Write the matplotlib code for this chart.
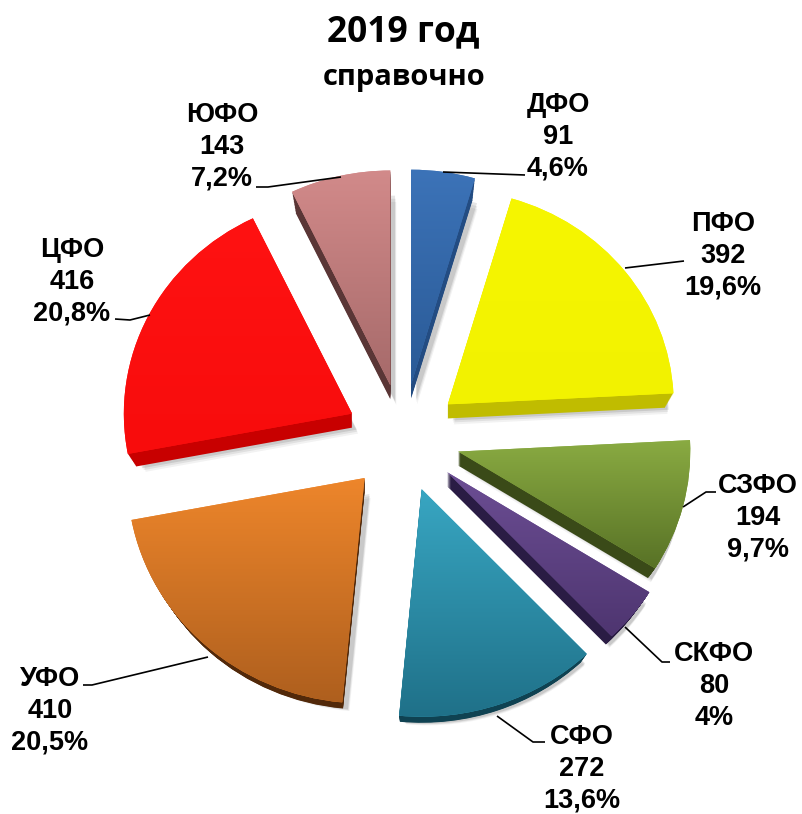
import numpy as np
import matplotlib
matplotlib.use("Agg")
import matplotlib.pyplot as plt
from matplotlib.colors import LinearSegmentedColormap
from matplotlib.patches import Wedge
from matplotlib.transforms import Affine2D

# ---- data ----
districts = ["ДФО", "ПФО", "СЗФО", "СКФО", "СФО", "УФО", "ЦФО", "ЮФО"]
counts = [91, 392, 194, 80, 272, 410, 416, 143]
shares = ["4,6%", "19,6%", "9,7%", "4%", "13,6%", "20,5%", "20,8%", "7,2%"]
title = "2019 год"
subtitle = "справочно"

# ---- style ----
top_colors = ["#3C73B8", "#F6F600", "#8AAB42", "#6C4E94", "#38A6C2", "#EE862B", "#FF1212", "#D28A8A"]
bot_colors = ["#2A5A96", "#F2F200", "#587226", "#4E3570", "#1F7088", "#AE5F1E", "#F80C0C", "#A66A6A"]
side_colors = ["#234C82", "#C0BC00", "#3A4A18", "#2A1C44", "#0F4252", "#52290A", "#C80000", "#5A3636"]
radius_scale = [1.0, 1.0, 1.027, 1.055, 1.06, 1.05, 1.01, 1.0]   # perspective of the 3D view

W, H = 802, 814
CX, CY = 403, 438      # pixel centre of the pie
SQ = 0.95              # vertical squeeze
R = 226
EXPL = 57              # explode distance, data units
DEPTH = 14

def px(x, y):
    return x - CX, (CY - y) / SQ

label_pos = [(558, 137), (723, 256), (758, 518), (714, 686), (582, 769), (50, 711), (72, 282), (222, 147)]
leaders = [
    [(443, 172), (525, 175)],
    [(625, 268), (684, 261)],
    [(683, 507), (706, 492), (716, 492)],
    [(625, 627), (662, 662), (670, 662)],
    [(497, 716), (533, 742), (545, 742)],
    [(208, 657), (92, 685), (83, 685)],
    [(150, 315), (130, 320), (115, 319)],
    [(341, 177), (268, 187), (256, 187)],
]

fig = plt.figure(figsize=(W / 100, H / 100), dpi=100, facecolor="white")
ax = fig.add_axes([0, 0, 1, 1])

wedges, _ = ax.pie(counts, explode=[EXPL] * len(counts), radius=R, center=(0, 0),
                   startangle=90, counterclock=False, colors=top_colors)
ax.set_aspect("auto")
xlim = (-CX, W - CX)
ylim = ((CY - H) / SQ, CY / SQ)

grad = np.linspace(0, 1, 256)[:, None]
for i, w in enumerate(wedges):
    w.set_radius(R * radius_scale[i])
    rim = w.r
    # soft drop shadow
    for off, alpha in [(DEPTH + 6, 0.05), (DEPTH + 4, 0.07), (DEPTH + 2, 0.10)]:
        s = Wedge(w.center, rim - 0.6 * off, w.theta1, w.theta2, fc="black", ec="none", alpha=alpha, zorder=1)
        s.set_transform(Affine2D().translate(off * 0.3, -off / SQ) + ax.transData)
        ax.add_patch(s)
    # extruded side: narrows with depth, so the rim band stays thin
    for d in range(DEPTH, 0, -1):
        s = Wedge(w.center, rim - 0.6 * d, w.theta1, w.theta2, fc=side_colors[i], ec="none", zorder=2)
        s.set_transform(Affine2D().translate(0, -d / SQ) + ax.transData)
        ax.add_patch(s)
    # gradient top surface clipped to the wedge
    w.set_zorder(3)
    verts = w.get_patch_transform().transform(w.get_path().vertices)
    x0, y0 = verts.min(axis=0)
    x1, y1 = verts.max(axis=0)
    cmap = LinearSegmentedColormap.from_list("g", [top_colors[i], bot_colors[i]])
    im = ax.imshow(grad, cmap=cmap, extent=(x0, x1, y0, y1), aspect="auto", zorder=4,
                   origin="upper", interpolation="bilinear")
    im.set_clip_path(w)

for pts in leaders:
    xy = np.array([px(*p) for p in pts])
    ax.plot(xy[:, 0], xy[:, 1], color="black", lw=1.2, zorder=6, solid_capstyle="butt")

for name, n, sh, (x, y) in zip(districts, counts, shares, label_pos):
    tx, ty = px(x, y)
    ax.text(tx, ty, f"{name}\n{n}\n{sh}", ha="center", va="center", fontsize=19.5,
            fontweight="bold", family="Liberation Sans", linespacing=1.28,
            color="black", zorder=7)

tx, ty = px(403, 32)
ax.text(tx, ty, title, ha="center", va="center", fontsize=25.5, fontweight="bold",
        family="Open Sans", color="black", zorder=7)
tx, ty = px(404, 77)
ax.text(tx, ty, subtitle, ha="center", va="center", fontsize=21, fontweight="bold",
        family="Open Sans", color="black", zorder=7)

ax.set_xlim(*xlim)
ax.set_ylim(*ylim)
ax.axis("off")
fig.savefig("out.png", dpi=100, facecolor="white")
